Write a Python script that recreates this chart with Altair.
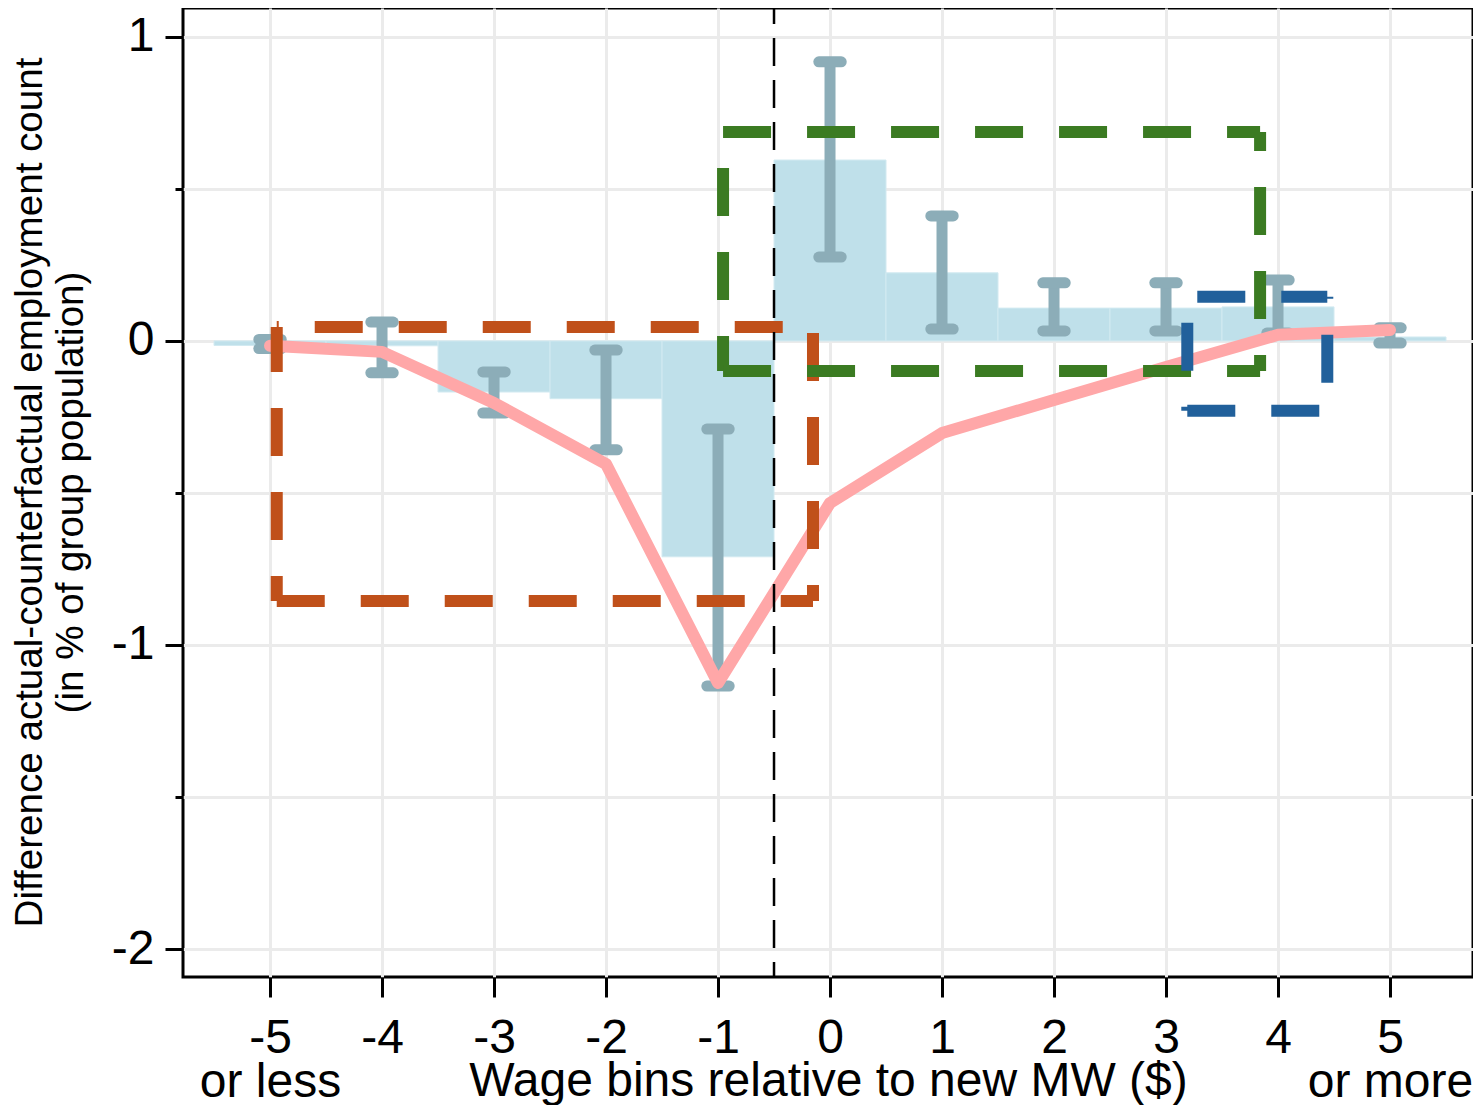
import altair as alt
import pandas as pd

# ---------------- data ----------------
bins = [-5, -4, -3, -2, -1, 0, 1, 2, 3, 4, 5]
bar_values = [-0.015, -0.016, -0.168, -0.19, -0.71, 0.595, 0.224, 0.108, 0.108, 0.112, 0.013]
ci_low = [-0.025, -0.105, -0.237, -0.358, -1.135, 0.276, 0.039, 0.033, 0.033, 0.026, -0.007]
ci_high = [0.005, 0.062, -0.102, -0.030, -0.290, 0.918, 0.411, 0.191, 0.191, 0.200, 0.043]
line_values = [-0.016, -0.036, -0.204, -0.405, -1.125, -0.533, -0.303, -0.194, -0.086, 0.020, 0.036]

# highlighted regions (dashed boxes): left, right, top, bottom
box_names = ["orange", "green", "blue"]
box_left = [-4.94, -0.955, 3.19]
box_right = [-0.152, 3.84, 4.44]
box_top = [0.046, 0.687, 0.145]
box_bottom = [-0.855, -0.099, -0.230]
box_colors = ["#c0501a", "#3b7b22", "#21609b"]
# dash phase per side (top, left, bottom, right) -- styling only
box_dash_offsets = [[46, 3, 0, 78], [0, 48, 0, 29], [74, 58, 0, 46]]

mw_cutoff = [-0.5]

y_major = [-2, -1, 0, 1]
y_minor = [-2, -1.5, -1, -0.5, 0, 0.5, 1]

x_title = "Wage bins relative to new MW ($)"
y_title = ["Difference actual-counterfactual employment count", "(in % of group population)"]

# ---------------- tables ----------------
df = pd.DataFrame({"bin": bins, "bar": bar_values, "lo": ci_low, "hi": ci_high, "line": line_values})
df["bar_start"] = df["bin"] - 0.5
df["bar_end"] = df["bin"] + 0.5
df["cap_start"] = df["bin"] - 0.1
df["cap_end"] = df["bin"] + 0.1
df["zero"] = 0.0

FONT = "Liberation Sans"
xs = alt.Scale(domain=[-5.777, 5.741], nice=False, zero=False)
ys = alt.Scale(domain=[-2.092, 1.095], nice=False, zero=False)

x_axis = alt.Axis(
    values=bins, orient="bottom",
    labelExpr="datum.value == -5 ? ['-5', 'or less'] : (datum.value == 5 ? ['5', 'or more'] : '' + datum.value)",
    grid=True, gridColor="#ebebeb", gridWidth=3,
    domain=False,
    ticks=True, tickSize=20, tickWidth=3, tickColor="black",
    labelFont=FONT, labelFontSize=48, labelColor="black", labelLineHeight=44,
    labelPadding=17, labelBaseline="top",
    title=x_title, titleFont=FONT, titleFontSize=48, titleFontWeight="normal",
    titleColor="black", titleY=118, titleBaseline="alphabetic",
)

y_axis_major = alt.Axis(
    values=y_major, orient="left",
    labelExpr="'' + datum.value",
    grid=False, domain=False,
    ticks=True, tickSize=18, tickWidth=3, tickColor="black",
    labelFont=FONT, labelFontSize=48, labelColor="black", labelPadding=11,
    title=y_title, titleFont=FONT, titleFontSize=38.6, titleFontWeight="normal",
    titleColor="black", titleLineHeight=41, titleAngle=270, titleBaseline="top",
    titleX=-172, titleY=484, titleAlign="center",
)

y_axis_minor = alt.Axis(
    values=y_minor, orient="left",
    grid=True, gridColor="#ebebeb", gridWidth=3,
    domain=False, labels=False,
    ticks=True, tickSize=8, tickWidth=3, tickColor="black",
    title="",
)

base = alt.Chart(df)

bars = base.mark_rect(color="#bfe0ea", stroke="#d2eaf1", strokeWidth=1).encode(
    x=alt.X("bar_start:Q", scale=xs, axis=x_axis),
    x2="bar_end:Q",
    y=alt.Y("zero:Q", scale=ys, axis=y_axis_major),
    y2="bar:Q",
)

stems = base.mark_rule(color="#8cadb8", strokeWidth=11).encode(
    x=alt.X("bin:Q", scale=xs, axis=None),
    y=alt.Y("lo:Q", scale=ys, axis=y_axis_minor),
    y2="hi:Q",
)

caps_lo = base.mark_rule(color="#8cadb8", strokeWidth=11, strokeCap="round").encode(
    x=alt.X("cap_start:Q", scale=xs, axis=None),
    x2="cap_end:Q",
    y=alt.Y("lo:Q", scale=ys, axis=None),
)
caps_hi = base.mark_rule(color="#8cadb8", strokeWidth=11, strokeCap="round").encode(
    x=alt.X("cap_start:Q", scale=xs, axis=None),
    x2="cap_end:Q",
    y=alt.Y("hi:Q", scale=ys, axis=None),
)

line = base.mark_line(color="#ffa7a8", strokeWidth=12, strokeJoin="round", strokeCap="round").encode(
    x=alt.X("bin:Q", scale=xs, axis=None),
    y=alt.Y("line:Q", scale=ys, axis=None),
)

layers = [bars, stems, caps_lo, caps_hi, line]

for i in range(len(box_names)):
    l, r, t, b = box_left[i], box_right[i], box_top[i], box_bottom[i]
    col = box_colors[i]
    offs = box_dash_offsets[i]
    segs = [
        (l, r, t, t, offs[0]),  # top
        (l, l, t, b, offs[1]),  # left
        (l, r, b, b, offs[2]),  # bottom
        (r, r, t, b, offs[3]),  # right
    ]
    for (xa, xb, ya, yb, off) in segs:
        sdf = pd.DataFrame({"xa": [xa], "xb": [xb], "ya": [ya], "yb": [yb]})
        layers.append(
            alt.Chart(sdf).mark_rule(
                color=col, strokeWidth=12, strokeDash=[48, 36], strokeDashOffset=off, strokeCap="butt"
            ).encode(
                x=alt.X("xa:Q", scale=xs, axis=None),
                x2="xb:Q",
                y=alt.Y("ya:Q", scale=ys, axis=None),
                y2="yb:Q",
            )
        )

cut_df = pd.DataFrame({"x": mw_cutoff})
cutoff = alt.Chart(cut_df).mark_rule(color="black", strokeWidth=2.5, strokeDash=[28, 14], strokeDashOffset=12).encode(
    x=alt.X("x:Q", scale=xs, axis=None),
)
layers.append(cutoff)

chart = alt.layer(*layers).resolve_axis(x="independent", y="independent").properties(
    width=1290,
    height=969,
    autosize=alt.AutoSizeParams(type="none"),
    padding={"left": 175, "top": 0, "right": 0, "bottom": 128},
    background="white",
).configure_view(
    stroke="black", strokeWidth=3
)

chart.save("out.html", embed_options={"renderer": "svg", "actions": False})
